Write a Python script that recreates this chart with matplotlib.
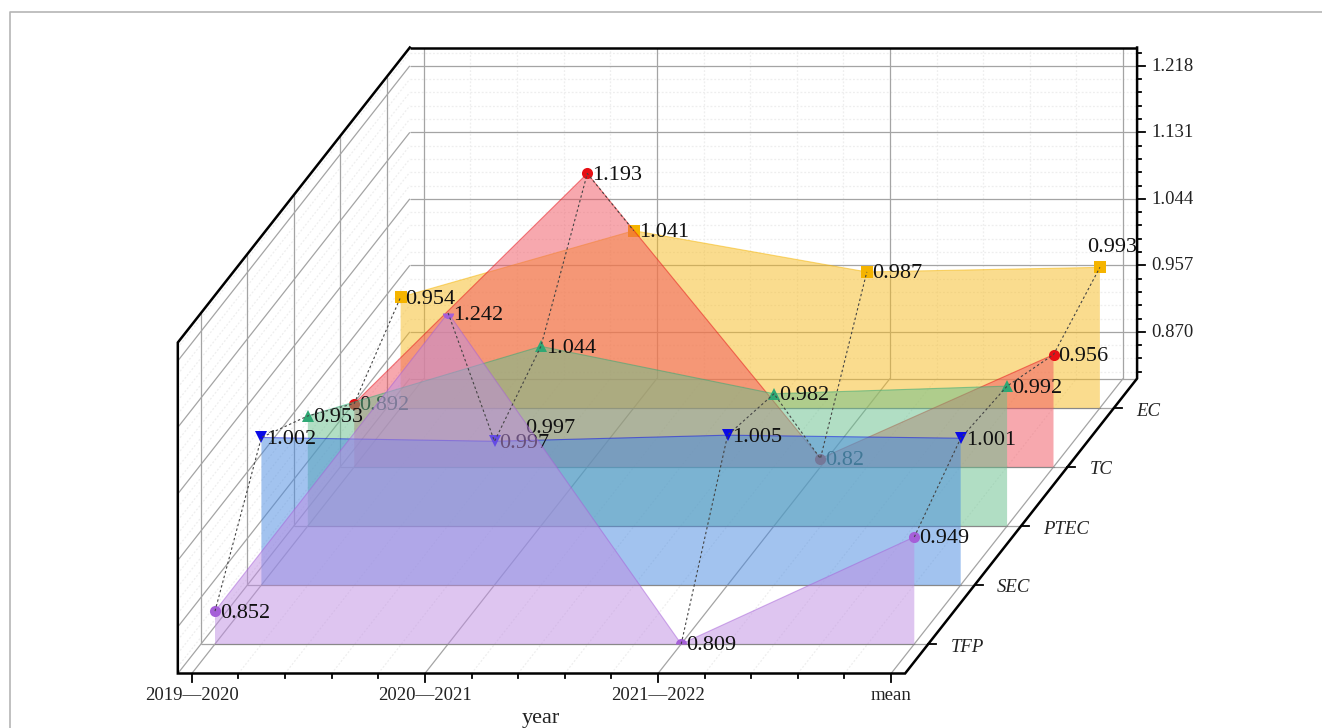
import matplotlib
matplotlib.use("Agg")
import matplotlib.pyplot as plt
import numpy as np

plt.rcParams['font.family'] = ['Liberation Serif', 'DejaVu Serif']

years = ["2019—2020", "2020—2021", "2021—2022", "mean"]
series_names = ["TFP", "SEC", "PTEC", "TC", "EC"]   # front to back

tfp = [0.852, 1.242, 0.809, 0.949]
sec = [1.002, 0.997, 1.005, 1.001]
ptec = [0.953, 1.044, 0.982, 0.992]
tc = [0.892, 1.193, 0.82, 0.956]
ec = [0.954, 1.041, 0.987, 0.993]
all_values = [tfp, sec, ptec, tc, ec]

z_ticks = [0.870, 0.957, 1.044, 1.131, 1.218]
z_tick_labels = ["0.870", "0.957", "1.044", "1.131", "1.218"]

fill_colors = ["#BF8DE3", "#4789E1", "#65BF8B", "#F1535F", "#F7BB1F"]
marker_colors = ["#A55FD8", "#0A0AE6", "#2FA874", "#E60F14", "#F5B400"]
markers = ["o", "v", "^", "o", "s"]

# axis limits of the box
z_min, z_max = 0.809, 1.242
x_min, x_max = -0.06, 3.06
d_min, d_max = -0.5, 4.5


# oblique projection of (x, depth, value) to pixels of the figure
def proj(x, d, z):
    x, d, z = np.broadcast_arrays(np.asarray(x, float), np.asarray(d, float), np.asarray(z, float))
    return 215 + 233.1 * x + 46.4 * d, 644 - 59 * d - 764.4 * (z - z_min)


def line3(ax, x, d, z, **kw):
    sx, sy = proj(x, d, z)
    ax.plot(sx, sy, solid_capstyle="butt", **kw)


fig = plt.figure(figsize=(13.22, 7.28), dpi=100)
ax = fig.add_axes([0, 0, 1, 1])
ax.set_xlim(0, 1322)
ax.set_ylim(728, 0)
ax.axis("off")

# picture border
ax.plot([9.5, 9.5, 1322], [728, 11.5, 11.5], color="#b5b5b5", lw=1.2)

major = dict(color="#a4a4a4", lw=0.9, zorder=1)
minor = dict(color="#eeeeee", lw=0.9, ls=(0, (1.5, 1.5)), zorder=0.5)

x_major = np.arange(4)
x_minor = [v for v in np.arange(0, 3.01, 0.2) if abs(v - round(v)) > 0.01]
d_major = np.arange(5)
z_step = 0.087 / 5
z_all = np.arange(z_ticks[0] - 3 * z_step, z_max + 0.001, z_step)
z_minor = [v for v in z_all if min(abs(v - t) for t in z_ticks) > 0.001]

# back wall, left wall, floor
for style, xs, zs in [(minor, x_minor, z_minor), (major, x_major, z_ticks)]:
    for x in xs:
        line3(ax, [x, x], [d_max, d_max], [z_min, z_max], **style)
        line3(ax, [x, x], [d_min, d_max], [z_min, z_min], **style)
    for z in zs:
        line3(ax, [x_min, x_max], [d_max, d_max], [z, z], **style)
        line3(ax, [x_min, x_min], [d_min, d_max], [z, z], **style)
for d in d_major:
    line3(ax, [x_min, x_min], [d, d], [z_min, z_max], **major)
    line3(ax, [x_min, x_max], [d, d], [z_min, z_min], **major)
line3(ax, [x_min, x_max], [d_max, d_max], [z_min, z_min], **major)
line3(ax, [x_min, x_min], [d_min, d_max], [z_min, z_min], **major)

# the black frame
frame = dict(color="black", lw=1.8, zorder=2)
fx, fy = proj([x_min, x_min, x_min, x_max, x_max, x_max],
              [d_max, d_min, d_min, d_min, d_max, d_max],
              [z_max, z_max, z_min, z_min, z_min, z_max])
ax.plot(fx, fy, solid_joinstyle="miter", **frame)
line3(ax, [x_min, x_max], [d_max, d_max], [z_max, z_max], **frame)

# ticks
tick = dict(color="black", lw=1.3, zorder=2)
for x in np.arange(0, 3.01, 0.2):
    sx, sy = proj(x, d_min, z_min)
    size = 8 if abs(x - round(x)) < 0.01 else 4
    ax.plot([sx, sx], [sy, sy + size], **tick)
for z in z_all:
    sx, sy = proj(x_max, d_max, z)
    size = 8 if min(abs(z - t) for t in z_ticks) < 0.001 else 4
    ax.plot([sx, sx + size], [sy, sy], **tick)
for d, name in zip(d_major, series_names):
    sx, sy = proj(x_max, d, z_min)
    ax.plot([sx, sx + 8], [sy, sy], **tick)
    ax.text(sx + 22, sy + 3, name, fontsize=13.5, style="italic",
            ha="left", va="center", color="#222222")

for x, label in zip(x_major, years):
    sx, sy = proj(x, d_min, z_min)
    ax.text(sx, 695, label, fontsize=13.5, ha="center", va="center", color="#222222")
for z, label in zip(z_ticks, z_tick_labels):
    sx, sy = proj(x_max, d_max, z)
    ax.text(sx + 14, sy + 0.5, label, fontsize=13.5, ha="left", va="center", color="#222222")
ax.text(541, 718, "year", fontsize=16, ha="center", va="center", color="#222222")

# waterfall layers, back to front so the front ones tint what is behind
for d in range(4, -1, -1):
    values = np.array(all_values[d])
    xs = np.arange(len(values))
    order = 10 + (4 - d) * 5
    sx, sy = proj(xs, d, values)
    bx, by = proj(xs, d, z_min)
    ax.fill(np.r_[sx, bx[::-1]], np.r_[sy, by[::-1]], facecolor=fill_colors[d],
            edgecolor="none", alpha=0.5, zorder=order)
    ax.plot(bx, by, color="#777777", lw=0.8, alpha=0.6, zorder=order + 1)
    ax.plot(sx, sy, color=marker_colors[d], lw=0.8, alpha=0.5, zorder=order + 1)
    for px, py, v in zip(sx, sy, values):
        # markers on the box limits get cut in half, like the source chart
        style = "full"
        if v >= z_max:
            style = "bottom"
        elif v <= z_min:
            style = "top"
        ax.plot(px, py, marker=markers[d], ms=8, color=marker_colors[d], mew=0,
                fillstyle=style, zorder=order + 2)
        label = f"{v:g}"
        if series_names[d] == "EC" and v == 0.993:
            ax.text(px + 12, py - 20, label, fontsize=16, ha="center", va="center",
                    color="#111111", zorder=order + 3)
        else:
            ax.text(px + 5, py + 2, label, fontsize=16, ha="left", va="center",
                    color="#111111", zorder=order + 3)
        if series_names[d] == "SEC" and v == 0.997:
            # the label shows up twice in the source
            ax.text(px + 31, py - 13, label, fontsize=16, ha="left", va="center",
                    color="#111111", zorder=order + 3)

# dashed links between layers
for i in range(4):
    sx, sy = proj([i] * 5, np.arange(5), [vals[i] for vals in all_values])
    ax.plot(sx, sy, color="#444444", lw=0.8, ls=(0, (2.2, 2.2)), zorder=50)

plt.savefig("out.png", dpi=100)
